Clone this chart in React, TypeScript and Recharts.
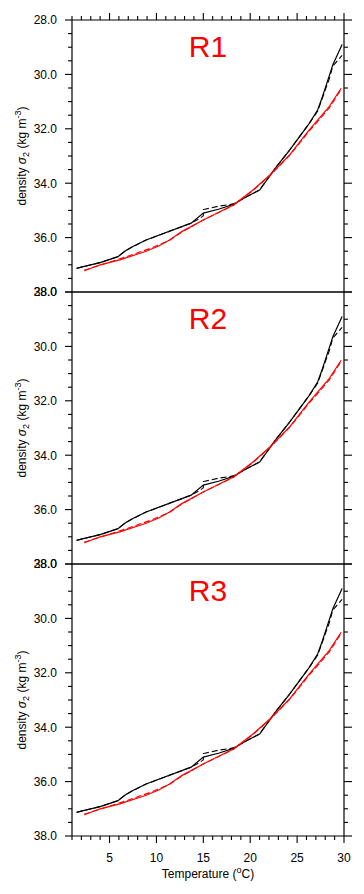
import { LineChart, Line, XAxis, YAxis } from 'recharts'

// temperature (°C) / density sigma2 values
const T_BLACK = [1.5, 2.2, 4.0, 5.9, 6.7, 7.5, 8.9, 13.7, 15.0, 16.7, 18.2, 19.6, 21.0, 22.8, 24.2, 26.3, 27.2, 27.7, 28.4, 28.8, 29.8]
const S_BLACK = [37.13, 37.07, 36.92, 36.7, 36.48, 36.33, 36.09, 35.47, 35.1, 34.95, 34.78, 34.5, 34.25, 33.39, 32.78, 31.8, 31.3, 30.82, 30.08, 29.65, 28.9]

const T_BLACK_DASH = [1.5, 2.2, 4.0, 5.9, 6.7, 7.5, 8.9, 13.7, 14.6, 15.0, 15.0, 16.7, 18.2, 19.6, 21.0, 22.8, 24.2, 26.3, 27.2, 28.0, 28.4, 28.8, 29.8]
const S_BLACK_DASH = [37.13, 37.07, 36.92, 36.7, 36.48, 36.33, 36.09, 35.47, 35.3, 35.2, 34.97, 34.84, 34.76, 34.5, 34.25, 33.39, 32.78, 31.8, 31.35, 30.57, 30.2, 29.7, 29.3]

const T_RED = [2.3, 4.0, 6.1, 8.9, 10.3, 11.4, 12.7, 15.0, 18.2, 20.3, 22.1, 24.2, 26.3, 28.4, 29.7]
const S_RED = [37.22, 37.0, 36.82, 36.5, 36.3, 36.09, 35.78, 35.35, 34.8, 34.25, 33.7, 32.96, 32.04, 31.19, 30.51]

const T_RED_DASH = [2.3, 6.1, 7.5, 9.5, 11.4, 12.7, 15.0, 18.2, 20.3, 22.1, 24.2, 26.3, 28.4, 29.6]
const S_RED_DASH = [37.2, 36.78, 36.62, 36.38, 36.1, 35.8, 35.35, 34.82, 34.27, 33.72, 32.98, 32.08, 31.25, 30.6]

const PANELS = ['R1', 'R2', 'R3']

const X_TICKS = Array.from({ length: 30 }, (_, i) => i + 1)
const Y_TICKS = Array.from({ length: 21 }, (_, i) => 28 + i * 0.5)

const FONT = '"Liberation Sans", Arial, Helvetica, sans-serif'
const LEFT = 72
const RIGHT = 344
const PTOP = 20
const PBOT = 292
const STEP = 272

const pts = (t: number[], s: number[]) => t.map((v, i) => ({ t: v, s: s[i] }))

const blackSolid = pts(T_BLACK, S_BLACK)
const blackDash = pts(T_BLACK_DASH, S_BLACK_DASH)
const redSolid = pts(T_RED, S_RED)
const redDash = pts(T_RED_DASH, S_RED_DASH)

function LeftTick(props: any) {
  const { y, payload } = props
  const v = payload.value
  const major = Math.abs(v % 2) < 1e-6
  const len = major ? 7 : 4
  return (
    <g>
      <line x1={LEFT - len} x2={LEFT} y1={y} y2={y} stroke="#000" strokeWidth={1.1} />
      {major && (
        <text x={LEFT - 15} y={y} dy="0.36em" textAnchor="end" fontSize={12} fontFamily={FONT} fill="#000">
          {v.toFixed(1)}
        </text>
      )}
    </g>
  )
}

function RightTick(props: any) {
  const { y, payload } = props
  const major = Math.abs(payload.value % 2) < 1e-6
  const len = major ? 8 : 4
  return (
    <g>
      <line x1={RIGHT} x2={RIGHT + len} y1={y} y2={y} stroke="#000" strokeWidth={1.1} />
    </g>
  )
}

function TopTick(props: any) {
  const { x, payload } = props
  const major = payload.value % 5 === 0
  const len = major ? 7 : 4
  return (
    <g>
      <line x1={x} x2={x} y1={PTOP - len} y2={PTOP} stroke="#000" strokeWidth={1.1} />
    </g>
  )
}

function BottomTick(props: any) {
  const { x, payload } = props
  const major = payload.value % 5 === 0
  const len = major ? 7 : 4
  return (
    <g>
      <line x1={x} x2={x} y1={PBOT} y2={PBOT + len} stroke="#000" strokeWidth={1.1} />
      {major && (
        <text x={x} y={PBOT + 26} textAnchor="middle" fontSize={12} fontFamily={FONT} fill="#000">
          {payload.value}
        </text>
      )}
    </g>
  )
}

const AXIS_LINE = { stroke: '#000', strokeWidth: 1.2 }

function Panel({ index }: { index: number }) {
  const first = index === 0
  const last = index === PANELS.length - 1
  return (
    <div style={{ position: 'absolute', left: 0, top: index * STEP }}>
      <LineChart width={364} height={350} margin={{ top: 10, right: 10, bottom: 28, left: 0 }}>
        <XAxis xAxisId="b" type="number" dataKey="t" domain={[1, 30]} ticks={X_TICKS} interval={0}
          orientation="bottom" height={30} tickLine={false} axisLine={AXIS_LINE}
          tick={last ? BottomTick : false} />
        <XAxis xAxisId="t" type="number" dataKey="t" domain={[1, 30]} ticks={X_TICKS} interval={0}
          orientation="top" height={10} tickLine={false} axisLine={AXIS_LINE}
          tick={first ? TopTick : false} />
        <YAxis yAxisId="l" type="number" dataKey="s" domain={[28, 38]} reversed ticks={Y_TICKS} interval={0}
          width={LEFT} tickLine={false} axisLine={AXIS_LINE} tick={LeftTick} />
        <YAxis yAxisId="r" type="number" dataKey="s" domain={[28, 38]} reversed ticks={Y_TICKS} interval={0}
          orientation="right" width={10} tickLine={false} axisLine={AXIS_LINE} tick={RightTick} />
        {/* invisible series so the top and right axes get their ticks */}
        <Line xAxisId="t" yAxisId="r" data={redSolid} dataKey="s" stroke="none" dot={false}
          activeDot={false} legendType="none" isAnimationActive={false} />
        <Line xAxisId="b" yAxisId="l" data={blackDash} dataKey="s" stroke="#000" strokeWidth={1.1}
          strokeDasharray="6 3" dot={false} isAnimationActive={false} />
        <Line xAxisId="b" yAxisId="l" data={blackSolid} dataKey="s" stroke="#000" strokeWidth={1.2}
          dot={false} isAnimationActive={false} />
        <Line xAxisId="b" yAxisId="l" data={redDash} dataKey="s" stroke="#ff0000" strokeWidth={1.1}
          strokeDasharray="6 3" dot={false} isAnimationActive={false} />
        <Line xAxisId="b" yAxisId="l" data={redSolid} dataKey="s" stroke="#ff0000" strokeWidth={1.2}
          dot={false} isAnimationActive={false} />
      </LineChart>
    </div>
  )
}

export default function App() {
  return (
    <div style={{ position: 'absolute', left: 0, top: 0, width: 364, height: 894, background: '#fff' }}>
      {PANELS.map((_, i) => (
        <Panel key={i} index={i} />
      ))}
      <svg width={364} height={894} style={{ position: 'absolute', left: 0, top: 0, pointerEvents: 'none' }}>
        {PANELS.map((name, i) => {
          const cy = PTOP + i * STEP + (PBOT - PTOP) / 2
          return (
            <g key={name}>
              <text x={208} y={PTOP + i * STEP + 37} textAnchor="middle" fontSize={30} fontFamily={FONT} fill="#ff0000">
                {name}
              </text>
              <text transform={`translate(26,${cy}) rotate(-90)`} textAnchor="middle" fontSize={12} fontFamily={FONT} fill="#000">
                density <tspan fontStyle="italic">σ</tspan>
                <tspan dy={3} fontSize={9}>2</tspan>
                <tspan dy={-3}> (kg m</tspan>
                <tspan dy={-5} fontSize={9}>-3</tspan>
                <tspan dy={5}>)</tspan>
              </text>
            </g>
          )
        })}
        <text x={208} y={878} textAnchor="middle" fontSize={12} fontFamily={FONT} fill="#000">
          Temperature (<tspan dy={-5} fontSize={9}>o</tspan>
          <tspan dy={5}>C)</tspan>
        </text>
      </svg>
    </div>
  )
}
